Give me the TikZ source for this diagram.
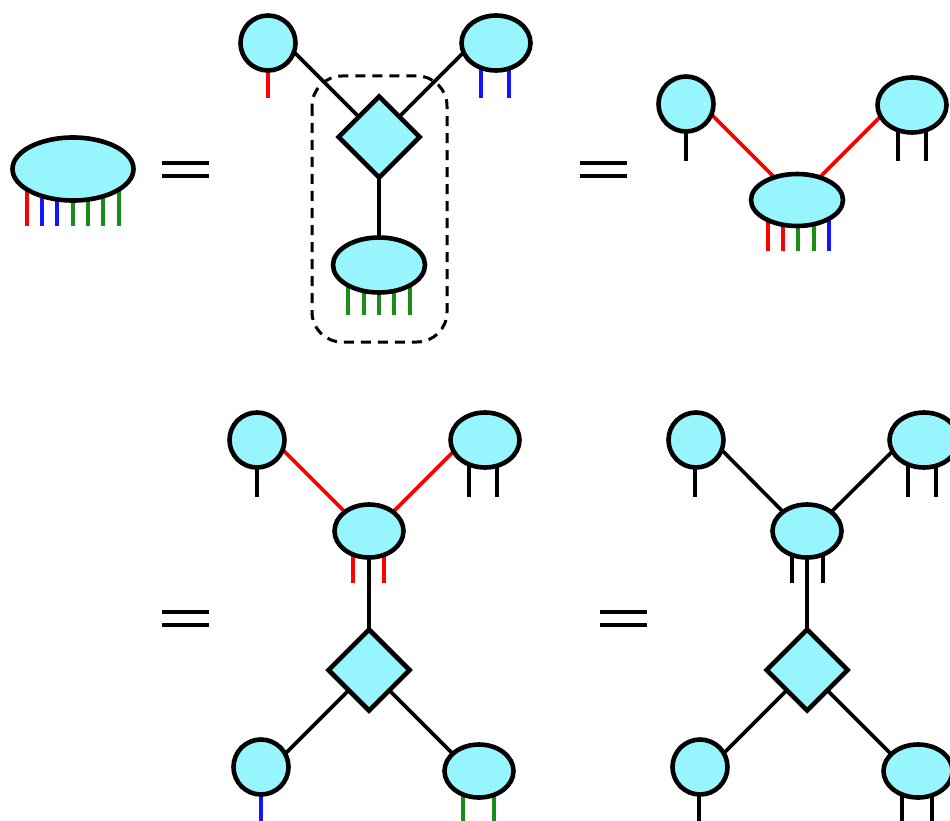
\documentclass[tikz,border=0pt]{standalone}
\usetikzlibrary{shapes.geometric,backgrounds,calc}
\definecolor{nodefill}{RGB}{150,245,253}
\definecolor{legred}{RGB}{255,0,0}
\definecolor{legblue}{RGB}{20,20,255}
\definecolor{leggreen}{RGB}{26,140,26}
\begin{document}
\begin{tikzpicture}[x=1pt,y=-1pt,
  tn/.style={draw=black, line width=4.6pt, fill=nodefill, ellipse, inner sep=0pt, outer sep=0pt},
  circ/.style={tn, minimum width=55pt, minimum height=55pt},
  sell/.style={tn, minimum width=69pt, minimum height=55pt},
  mell/.style={tn, minimum width=92pt, minimum height=55pt},
  dia/.style={draw=black, line width=4.6pt, fill=nodefill, diamond, inner sep=0pt, outer sep=0pt, minimum width=81pt, minimum height=81pt},
  bond/.style={line width=3.6pt},
  leg/.style={line width=3.6pt},
  eqline/.style={line width=3.4pt},
  box/.style={line width=3pt, dash pattern=on 10pt off 7pt, rounded corners=30pt}]
\useasboundingbox (0,0) rectangle (950,821);

% ---------- panel 1 ----------
\node[tn, minimum width=121pt, minimum height=63pt] (A) at (73,169) {};

% equals signs
\draw[eqline] (162,163) -- (209,163) (162,176) -- (209,176);
\draw[eqline] (580,163) -- (627,163) (580,176) -- (627,176);
\draw[eqline] (162,612) -- (209,612) (162,625) -- (209,625);
\draw[eqline] (600,612) -- (647,612) (600,625) -- (647,625);

% ---------- panel 2 ----------
\node[circ] (B1) at (268,43) {};
\node[sell] (B2) at (496,43) {};
\node[dia]  (B3) at (379,137) {};
\node[mell] (B4) at (379,265) {};
\draw[box] (312,76) rectangle (447,342);

% ---------- panel 3 ----------
\node[circ] (C1) at (686,104) {};
\node[sell] (C2) at (912,105) {};
\node[mell, minimum height=52pt] (C3) at (797,200) {};

% ---------- panel 4 ----------
\node[circ] (D1) at (257,440) {};
\node[sell] (D2) at (485,440) {};
\node[sell, minimum height=53pt] (D3) at (369,531) {};
\node[dia]  (D4) at (369,670) {};
\node[circ] (D5) at (261,767) {};
\node[sell, minimum height=53pt] (D6) at (479,771) {};

% ---------- panel 5 ----------
\node[circ] (E1) at (696,440) {};
\node[sell] (E2) at (924,440) {};
\node[sell, minimum height=53pt] (E3) at (807,531) {};
\node[dia]  (E4) at (807,670) {};
\node[circ] (E5) at (700,767) {};
\node[sell, minimum height=53pt] (E6) at (918,771) {};

\begin{pgfonlayer}{background}
  % panel 1 legs
  \draw[leg, legred]   (27,169) -- (27,226);
  \draw[leg, legblue]  (42,169) -- (42,226);
  \draw[leg, legblue]  (57,169) -- (57,226);
  \foreach \x in {73,88,103,119} \draw[leg, leggreen] (\x,169) -- (\x,226);

  % panel 2 bonds and legs
  \draw[bond] (B3.center) -- ($(B1.center)+(0,-17)$);
  \draw[bond] (B3.center) -- ($(B2.center)+(0,-23)$);
  \draw[bond] (B3.center) -- (B4.center);
  \draw[leg, legred] (268,43) -- (268,98);
  \draw[leg, legblue] (481,43) -- (481,98);
  \draw[leg, legblue] (509,43) -- (509,98);
  \foreach \x in {348,364,379,394,410} \draw[leg, leggreen] (\x,265) -- (\x,315);

  % panel 3 bonds and legs
  \draw[bond, legred] (C3.center) -- ($(C1.center)+(0,-15)$);
  \draw[bond, legred] (C3.center) -- ($(C2.center)+(0,-20)$);
  \draw[leg] (686,104) -- (686,161);
  \draw[leg] (898,105) -- (898,161);
  \draw[leg] (926,105) -- (926,161);
  \draw[leg, legred]   (768,200) -- (768,251);
  \draw[leg, legred]   (783,200) -- (783,251);
  \draw[leg, leggreen] (798,200) -- (798,251);
  \draw[leg, leggreen] (814,200) -- (814,251);
  \draw[leg, legblue]  (829,200) -- (829,251);

  % panel 4 bonds and legs
  \draw[bond, legred] ($(D3.center)+(0,5)$) -- ($(D1.center)+(0,-16)$);
  \draw[bond, legred] ($(D3.center)+(0,5)$) -- ($(D2.center)+(0,-20)$);
  \draw[bond] (D3.center) -- (D4.center);
  \draw[bond] (D4.center) -- ($(D5.center)+(0,11)$);
  \draw[bond] (D4.center) -- ($(D6.center)+(0,9)$);
  \draw[leg] (257,440) -- (257,497);
  \draw[leg] (469,440) -- (469,497);
  \draw[leg] (497,440) -- (497,497);
  \draw[leg, legred] (353,531) -- (353,583);
  \draw[leg, legred] (384,531) -- (384,583);
  \draw[leg, legblue] (261,767) -- (261,830);
  \draw[leg, leggreen] (463,771) -- (463,830);
  \draw[leg, leggreen] (494,771) -- (494,830);

  % panel 5 bonds and legs
  \draw[bond] ($(E3.center)+(0,5)$) -- ($(E1.center)+(0,-16)$);
  \draw[bond] ($(E3.center)+(0,5)$) -- ($(E2.center)+(0,-20)$);
  \draw[bond] (E3.center) -- (E4.center);
  \draw[bond] (E4.center) -- ($(E5.center)+(0,10)$);
  \draw[bond] (E4.center) -- ($(E6.center)+(0,10)$);
  \draw[leg] (695,440) -- (695,497);
  \draw[leg] (908,440) -- (908,497);
  \draw[leg] (936,440) -- (936,497);
  \draw[leg] (792,531) -- (792,583);
  \draw[leg] (823,531) -- (823,583);
  \draw[leg] (699,767) -- (699,830);
  \draw[leg] (902,771) -- (902,830);
  \draw[leg] (932,771) -- (932,830);
\end{pgfonlayer}
\end{tikzpicture}
\end{document}
